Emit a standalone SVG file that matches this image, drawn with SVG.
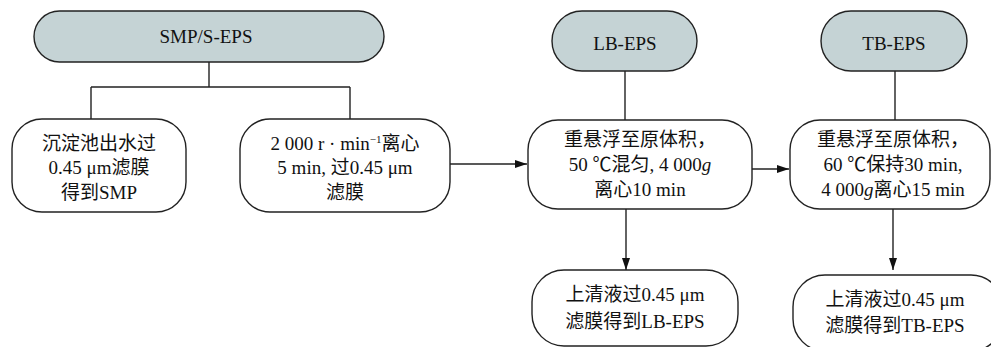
<svg xmlns="http://www.w3.org/2000/svg" width="991" height="347" viewBox="0 0 991 347">
<defs>
<style>
.hd{fill:#c5d3d5;stroke:#222;stroke-width:1.4}
.bx{fill:#fff;stroke:#222;stroke-width:1.4}
.ln{fill:none;stroke:#222;stroke-width:1.4}
text{font-family:"Liberation Serif","Noto Sans CJK SC",serif;font-size:19px;fill:#111;text-anchor:middle}
.it{font-style:italic}
</style>
<marker id="ah" viewBox="0 0 12 8" refX="12" refY="4" markerWidth="12" markerHeight="8" markerUnits="userSpaceOnUse" orient="auto">
<path d="M0,0 L12,4 L0,8 Z" fill="#111"/>
</marker>
</defs>
<rect width="991" height="347" fill="#fff"/>
<g id="connectors">
<path class="ln" d="M209,62 V87 M91,87 H350 M91,87 V119 M350,87 V119"/>
<path class="ln" d="M450,164 H527" marker-end="url(#ah)"/>
<path class="ln" d="M625,71 V120"/>
<path class="ln" d="M752,169 H789" marker-end="url(#ah)"/>
<path class="ln" d="M895,71 V120"/>
<path class="ln" d="M626,209 V270" marker-end="url(#ah)"/>
<path class="ln" d="M893,209 V270" marker-end="url(#ah)"/>
</g>
<g id="smp-header">
<rect class="hd" x="34" y="11" width="350" height="51" rx="25.5"/>
<text x="206" y="43">SMP/S-EPS</text>
</g>
<g id="lb-header">
<rect class="hd" x="552" y="11" width="145" height="60" rx="30"/>
<text x="625" y="50">LB-EPS</text>
</g>
<g id="tb-header">
<rect class="hd" x="821" y="11" width="146" height="60" rx="30"/>
<text x="894" y="50">TB-EPS</text>
</g>
<g id="smp-box">
<rect class="bx" x="12" y="119" width="174" height="93" rx="30"/>
<text x="99" y="150">沉淀池出水过</text>
<text x="99" y="174">0.45 μm滤膜</text>
<text x="99" y="199">得到SMP</text>
</g>
<g id="seps-box">
<rect class="bx" x="240" y="119" width="210" height="93" rx="30"/>
<text x="345" y="150">2 000 r · min<tspan font-size="11" dy="-7">−1</tspan><tspan dy="7">离心</tspan></text>
<text x="345" y="174">5 min, 过0.45 μm</text>
<text x="345" y="199">滤膜</text>
</g>
<g id="lb-process">
<rect class="bx" x="528" y="120" width="224" height="89" rx="30"/>
<text x="640" y="146">重悬浮至原体积，</text>
<text x="640" y="171">50 ℃混匀, 4 000<tspan class="it">g</tspan></text>
<text x="640" y="196">离心10 min</text>
</g>
<g id="tb-process">
<rect class="bx" x="790" y="120" width="200" height="89" rx="30"/>
<text x="893" y="146">重悬浮至原体积，</text>
<text x="893" y="171">60 ℃保持30 min,</text>
<text x="893" y="196">4 000<tspan class="it">g</tspan>离心15 min</text>
</g>
<g id="lb-result">
<rect class="bx" x="532" y="270" width="206" height="76" rx="32"/>
<text x="635" y="301">上清液过0.45 μm</text>
<text x="635" y="328">滤膜得到LB-EPS</text>
</g>
<g id="tb-result">
<rect class="bx" x="793" y="275" width="210" height="76" rx="32"/>
<text x="895" y="306">上清液过0.45 μm</text>
<text x="895" y="332">滤膜得到TB-EPS</text>
</g>
</svg>
